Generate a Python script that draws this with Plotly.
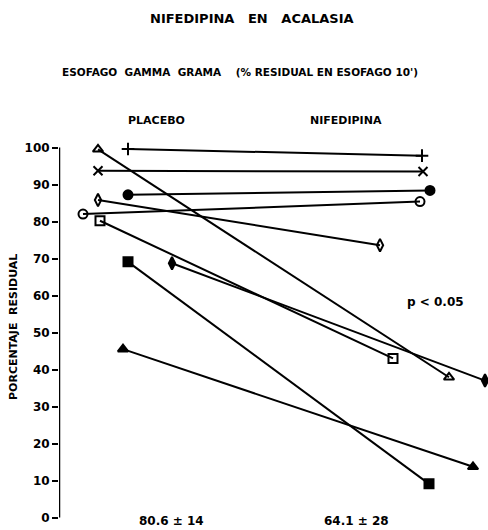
import plotly.graph_objects as go

# ---- data ----
placebo = [99.5, 99.6, 93.7, 87.2, 85.8, 82.0, 80.2, 69.1, 68.7, 45.5]
nifedipina = [37.9, 97.8, 93.5, 88.4, 73.6, 85.4, 43.0, 9.1, 37.0, 13.7]
# horizontal placement of each patient's marker (hand-drawn chart, arbitrary units)
x_placebo = [98, 128, 98, 128, 98, 83, 100, 128, 172, 123]
x_nifed = [449, 422, 423, 430, 380, 420, 393, 429, 485, 473]
symbols = ["triangle-up-open", "cross-thin-open", "x-thin-open", "circle", "diamond-tall-open",
           "circle-open", "square-open", "square", "diamond-tall", "triangle-up"]
y_ticks = list(range(0, 101, 10))
title = "NIFEDIPINA   EN   ACALASIA"
subtitle = "ESOFAGO  GAMMA  GRAMA    (% RESIDUAL EN ESOFAGO 10')"
group_labels = ["PLACEBO", "NIFEDIPINA"]
means = ["80.6 ± 14", "64.1 ± 28"]
pval = "p < 0.05"
ytitle = "PORCENTAJE  RESIDUAL"

W, H = 488, 530
ML, MR, MT, MB = 59, 0, 130, 5
PX_PER_UNIT = 3.7
Y0_PX = 517.5
y_top = (Y0_PX - MT) / PX_PER_UNIT
y_bot = (Y0_PX - (H - MB)) / PX_PER_UNIT

FONT = "DejaVu Sans"
fig = go.Figure()
for i in range(len(placebo)):
    fig.add_trace(go.Scatter(
        x=[x_placebo[i], x_nifed[i]], y=[placebo[i], nifedipina[i]],
        mode="lines+markers",
        line=dict(color="black", width=2),
        marker=dict(symbol=symbols[i], size=9, color="black",
                    line=dict(color="black", width=2)),
        showlegend=False, hoverinfo="skip", cliponaxis=False))

# axis line from 0 to 100
fig.add_shape(type="line", xref="x", yref="y", x0=ML, x1=ML, y0=0, y1=100,
              line=dict(color="black", width=2.5))


def px2paper(px, py):
    return (px - ML) / (W - ML - MR), (H - MB - py) / (H - MT - MB)


def add_text(text, px, py, size, **kw):
    xp, yp = px2paper(px, py)
    fig.add_annotation(text=text, x=xp, y=yp, xref="paper", yref="paper",
                       showarrow=False, font=dict(family=FONT, size=size, color="black", weight="bold"),
                       xanchor="center", yanchor="middle", **kw)


add_text(title, 252, 18, 13)
add_text(subtitle, 240, 72, 10.5)
add_text(group_labels[0], 156, 120, 11)
add_text(group_labels[1], 346, 120, 11)
add_text(means[0], 171, 521, 12)
add_text(means[1], 356, 521, 12)
add_text(pval, 435, 302, 12)
add_text(ytitle, 13, 327, 11, textangle=-90)

fig.update_layout(
    width=W, height=H, margin=dict(l=ML, r=MR, t=MT, b=MB),
    paper_bgcolor="white", plot_bgcolor="white",
    xaxis=dict(range=[ML, W - MR], visible=False, fixedrange=True),
    yaxis=dict(range=[y_bot, y_top], tickvals=y_ticks, ticktext=[str(v) for v in y_ticks],
               ticks="outside", ticklen=6, tickwidth=2, tickcolor="black",
               showgrid=False, zeroline=False, showline=False,
               tickfont=dict(family=FONT, size=12, color="black", weight="bold")),
)
fig.write_html("out.html")
